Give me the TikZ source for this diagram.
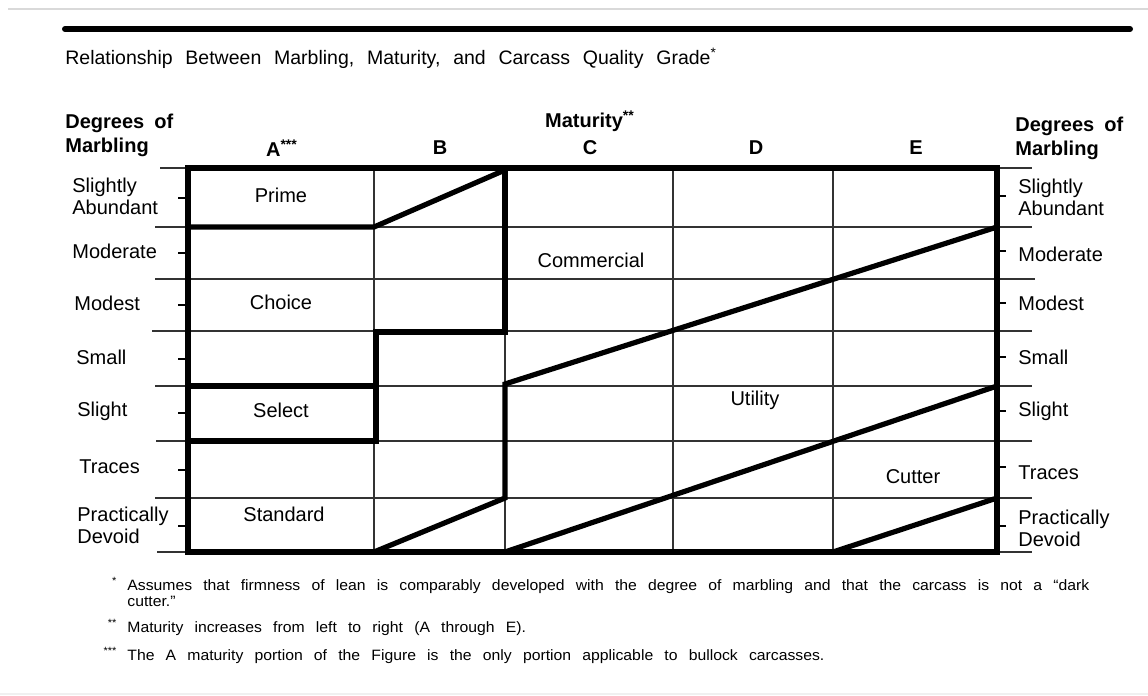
\documentclass[tikz,border=0pt]{standalone}
\usepackage{fontspec}
\setmainfont{Liberation Sans}
\newfontfamily\notefamily[FakeStretch=1.05]{Liberation Sans}
\usepackage{tikz}
\newcommand{\titlefont}{\fontsize{9.75}{12}\selectfont\spaceskip 6.4pt\relax}
\newcommand{\headfont}{\fontsize{10}{12}\selectfont\bfseries\spaceskip 5pt\relax}
\newcommand{\notefont}{\notefamily\fontsize{7.5}{8}\selectfont\spaceskip 5.6pt\relax}

\begin{document}
\begin{tikzpicture}[x=0.5pt, y=-0.5pt,
		gridline/.style={line width=0.6pt, black!80},
		gradeline/.style={line width=2.6pt, line join=miter},
		tickline/.style={line width=1pt},
		rowlab/.style={anchor=west, align=left, inner sep=0pt, font=\fontsize{10}{11}\selectfont},
		headlab/.style={align=left, inner sep=0pt, font=\headfont},
		gradelab/.style={inner sep=0pt, font=\fontsize{10}{11}\selectfont},
		notelab/.style={anchor=west, align=left, inner sep=0pt, font=\notefont}]
				\useasboundingbox (0,0) rectangle (1148,696);
				% page rules
				\draw[black!15, line width=0.8pt] (8,9) -- (1148,9);
				\draw[line width=3pt, line cap=round] (65,29) -- (1130,29);
				\draw[black!6, line width=1pt] (0,694) -- (1148,694);
				\node[anchor=west, inner sep=0pt, font=\titlefont] (title) at (65,58) {Relationship Between Marbling, Maturity, and Carcass Quality Grade\textsuperscript{*}};
				% thin grid
				\draw[gridline] (160,168) -- (1032,168) (155,227) -- (1032,227) (155,279) -- (1035,279) (152,331) -- (1032,331);
				\draw[gridline] (155,386) -- (1032,386) (156,441) -- (1032,441) (155,498) -- (1032,498) (157,552) -- (1032,552);
				\draw[gridline] (374,168) -- (374,552) (505,168) -- (505,552) (673,168) -- (673,552) (833,168) -- (833,552);
				% ticks
				\draw[tickline] (178,198) -- (188,198) (178,253) -- (188,253) (178,305) -- (188,305) (178,359) -- (188,359) (178,413) -- (188,413) (178,470) -- (188,470) (178,526) -- (188,526);
				\draw[tickline] (997,196) -- (1006,196) (997,251) -- (1006,251) (997,303) -- (1006,303) (997,357) -- (1006,357) (997,411) -- (1006,411) (997,467) -- (1006,467) (997,526) -- (1006,526);
				% grade boundaries
				\draw[gradeline] (188,227) -- (374,227) -- (505,170);
				\draw[gradeline] (505,168) -- (505,332) -- (376,332) -- (376,441) -- (188,441);
				\draw[gradeline] (188,386) -- (376,386);
				\draw[gradeline] (997,227) -- (505,384) -- (505,498) -- (374,552);
				\draw[gradeline] (505,552) -- (997,386);
				\draw[gradeline] (833,552) -- (997,498);
				\draw[gradeline] (188,168) rectangle (997,552);
				% headings
				\node[headlab, anchor=west] (ldeg) at (65,135) {Degrees of\\Marbling};
				\node[headlab, anchor=west] (rdeg) at (1015,138) {Degrees of\\Marbling};
				\node[headlab] (mat) at (590,121) {Maturity\textsuperscript{**}};
				\node[headlab] (colA) at (282,148) {A\textsuperscript{***}};
				\node[headlab] (colB) at (440,148) {B};
				\node[headlab] (colC) at (590,148) {C};
				\node[headlab] (colD) at (756,148) {D};
				\node[headlab] (colE) at (916,148) {E};
				% marbling degrees
				\node[rowlab] (lsab) at (72,196) {Slightly\\Abundant};
				\node[rowlab] (lmod) at (72,251) {Moderate};
				\node[rowlab] (lmst) at (74,303) {Modest};
				\node[rowlab] (lsml) at (76,357) {Small};
				\node[rowlab] (lsli) at (77,411) {Slight};
				\node[rowlab] (ltrc) at (79,467) {Traces};
				\node[rowlab] (lpdv) at (77,525) {Practically\\Devoid};
				\node[rowlab] (rsab) at (1018,197) {Slightly\\Abundant};
				\node[rowlab] (rmod) at (1018,254) {Moderate};
				\node[rowlab] (rmst) at (1018,303) {Modest};
				\node[rowlab] (rsml) at (1018,357) {Small};
				\node[rowlab] (rsli) at (1018,411) {Slight};
				\node[rowlab] (rtrc) at (1018,473) {Traces};
				\node[rowlab] (rpdv) at (1018,528) {Practically\\Devoid};
				% quality grades
				\node[gradelab] (prime) at (281,195) {Prime};
				\node[gradelab] (choice) at (281,302) {Choice};
				\node[gradelab] (select) at (281,410) {Select};
				\node[gradelab] (standard) at (284,514) {Standard};
				\node[gradelab] (commercial) at (591,260) {Commercial};
				\node[gradelab] (utility) at (755,400) {Utility};
				\node[gradelab] (cutter) at (913,477) {Cutter};
				% footnotes
				\node[notelab] (note1) at (127,592) {\llap{\textsuperscript{*}\hspace{5pt}}Assumes that firmness of lean is comparably developed with the degree of marbling and that the carcass is not a “dark\\cutter.”};
				\node[notelab] (note2) at (127,627) {\llap{\textsuperscript{**}\hspace{5pt}}Maturity increases from left to right (A through E).};
				\node[notelab] (note3) at (127,655) {\llap{\textsuperscript{***}\hspace{5pt}}The A maturity portion of the Figure is the only portion applicable to bullock carcasses.};
			\end{tikzpicture}
\end{document}
